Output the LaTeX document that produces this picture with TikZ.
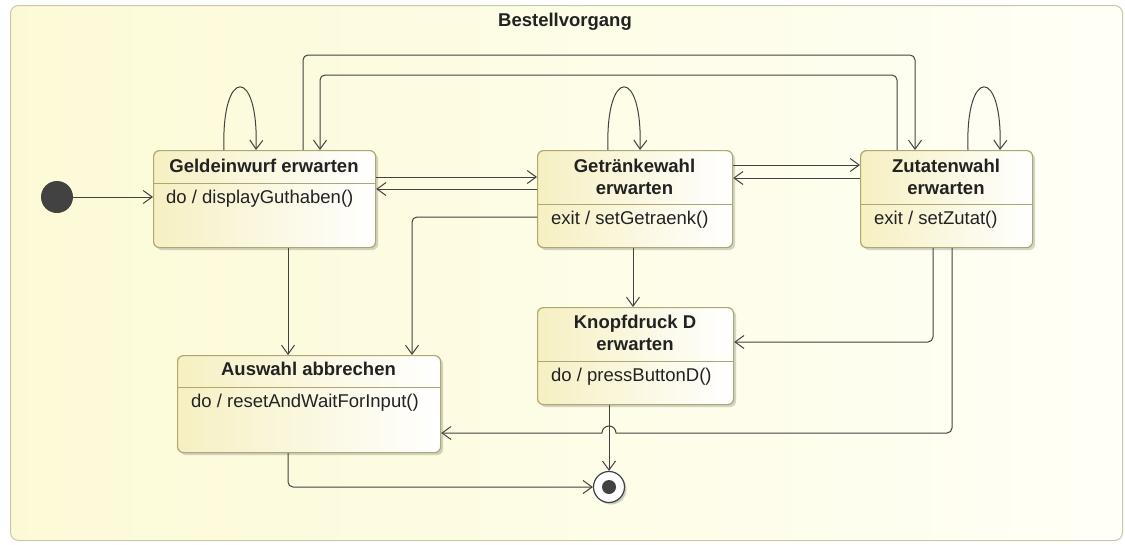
\documentclass[tikz,border=0pt]{standalone}
\usepackage{fontspec}
\setmainfont{Liberation Sans}
\usetikzlibrary{arrows.meta,shadows}

\definecolor{frameedge}{HTML}{CAC8A6}
\definecolor{frameL}{HTML}{FCFAD6}
\definecolor{frameR}{HTML}{FFFFF6}
\definecolor{stateedge}{HTML}{ADA872}
\definecolor{stateY}{HTML}{F6F0C2}
\definecolor{ink}{HTML}{424242}
\definecolor{txt}{HTML}{222222}

\begin{document}
\begin{tikzpicture}[x=1pt,y=1pt,
  statebox/.style={draw=stateedge, line width=1.2pt, rounded corners=6pt,
    left color=stateY, right color=white,
    drop shadow={shadow xshift=2.5pt, shadow yshift=-2.5pt, opacity=0.3, fill=black!55},
    anchor=north west, inner sep=0pt},
  sepline/.style={draw=stateedge, line width=1pt},
  titletext/.style={font=\fontsize{18.5}{22}\selectfont\bfseries, text=txt, align=center, inner sep=0pt},
  bodytext/.style={font=\fontsize{18.5}{22}\selectfont, text=txt, anchor=west, inner sep=0pt},
  conn/.style={draw=ink, line width=1pt, rounded corners=5pt},
  arr/.style={-{Straight Barb[length=9pt,width=13pt]}},
]
\useasboundingbox (0,0) rectangle (1125,-544);

% composite state frame
\node[draw=frameedge, line width=1pt, rounded corners=8pt, left color=frameL, right color=frameR,
      minimum width=1112, minimum height=535, anchor=north west, inner sep=0pt] (frame) at (10,-5) {};
\node[titletext] (frametitle) at (565,-22) {Bestellvorgang};

% states
\node[statebox, minimum width=222, minimum height=97] (geld) at (153,-150) {};
\node[statebox, minimum width=195, minimum height=97] (getr) at (537,-150) {};
\node[statebox, minimum width=172, minimum height=97] (zut) at (860,-150) {};
\node[statebox, minimum width=263, minimum height=97] (ausw) at (177,-355) {};
\node[statebox, minimum width=196, minimum height=97] (knopf) at (537,-307) {};

% compartment separators
\draw[sepline] (geld.west |- 0,-183) -- (geld.east |- 0,-183);
\draw[sepline] (getr.west |- 0,-204) -- (getr.east |- 0,-204);
\draw[sepline] (zut.west |- 0,-204) -- (zut.east |- 0,-204);
\draw[sepline] (ausw.west |- 0,-387) -- (ausw.east |- 0,-387);
\draw[sepline] (knopf.west |- 0,-361) -- (knopf.east |- 0,-361);

% state names
\node[titletext] (geldT) at (264,-166) {Geldeinwurf erwarten};
\node[titletext] (getrT) at (634.5,-177) {Getränkewahl\\erwarten};
\node[titletext] (zutT) at (946,-177) {Zutatenwahl\\erwarten};
\node[titletext] (auswT) at (308.5,-369) {Auswahl abbrechen};
\node[titletext] (knopfT) at (635,-332.5) {Knopfdruck D\\erwarten};

% internal activities
\node[bodytext] (geldB) at (166,-199) {do / displayGuthaben()};
\node[bodytext] (getrB) at (551,-220) {exit / setGetraenk()};
\node[bodytext] (zutB) at (874,-220) {exit / setZutat()};
\node[bodytext] (auswB) at (191,-403) {do / resetAndWaitForInput()};
\node[bodytext] (knopfB) at (551,-377) {do / pressButtonD()};

% pseudostates
\node[circle, fill=ink, minimum size=32, inner sep=0pt] (init) at (57,-197) {};
\node[circle, draw=ink, fill=white, line width=1.2pt, minimum size=31, inner sep=0pt,
      drop shadow={shadow xshift=2pt, shadow yshift=-2pt, opacity=0.35, fill=black!55}] (final) at (609,-487) {};
\node[circle, fill=ink, minimum size=14, inner sep=0pt] (finaldot) at (final) {};

% transitions
\draw[conn, arr] (init) -- (geld.west |- init);

\draw[conn, arr] (224,0 |- geld.north) .. controls (221,-66) and (259,-66) .. (256,0 |- geld.north);
\draw[conn, arr] (608,0 |- getr.north) .. controls (605,-66) and (643,-66) .. (640,0 |- getr.north);
\draw[conn, arr] (968,0 |- zut.north) .. controls (965,-66) and (1003,-66) .. (1000,0 |- zut.north);

\draw[conn, arr] (303,0 |- geld.north) -- (303,-55) -- (915,-55) -- (915,0 |- zut.north);
\draw[conn, arr] (897,0 |- zut.north) -- (897,-75) -- (320,-75) -- (320,0 |- geld.north);

\draw[conn, arr] (geld.east |- 0,-177) -- (getr.west |- 0,-177);
\draw[conn, arr] (getr.west |- 0,-189) -- (geld.east |- 0,-189);
\draw[conn, arr] (getr.east |- 0,-165) -- (zut.west |- 0,-165);
\draw[conn, arr] (zut.west |- 0,-178) -- (getr.east |- 0,-178);

\draw[conn, arr] (getr.west |- 0,-217) -- (412,-217) -- (412,0 |- ausw.north);
\draw[conn, arr] (288,0 |- geld.south) -- (288,0 |- ausw.north);
\draw[conn, arr] (633,0 |- getr.south) -- (633,0 |- knopf.north);
\draw[conn, arr] (933,0 |- zut.south) -- (933,-342) -- (knopf.east |- 0,-342);
\draw[conn, arr] (952,0 |- zut.south) -- (952,-433) [sharp corners] -- (616,-433)
      arc[start angle=0, end angle=180, radius=7] -- (ausw.east |- 0,-433);

\draw[conn, arr] (final |- knopf.south) -- (final);
\draw[conn, arr] (288,0 |- ausw.south) -- (288,-487) -- (final);
\end{tikzpicture}
\end{document}
